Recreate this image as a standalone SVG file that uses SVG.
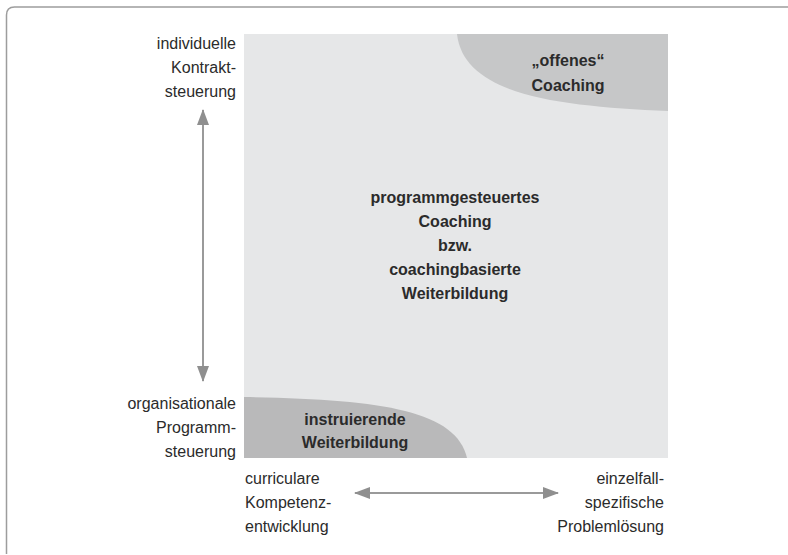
<svg xmlns="http://www.w3.org/2000/svg" width="788" height="555" viewBox="0 0 788 555">
<defs>
<style>
text{font-family:"Liberation Sans",Arial,sans-serif;font-size:16px;fill:#2b2b2b}
.b{font-weight:bold}
.r{text-anchor:end}
.c{text-anchor:middle}
.ax{stroke:#9a9a9a;stroke-width:2;fill:none}
</style>
<marker id="ah" viewBox="0 0 16 12" refX="15" refY="6" markerWidth="16" markerHeight="12" markerUnits="userSpaceOnUse" orient="auto-start-reverse">
<path d="M0,0 L16,6 L0,12 Z" fill="#8f8f8f"/>
</marker>
</defs>
<rect width="788" height="555" fill="#fff"/>
<path d="M6.5,554 L6.5,15 Q6.5,7 14.5,7 L788,7" fill="none" stroke="#9d9d9d" stroke-width="1.5"/>
<g id="field">
<rect x="244" y="34" width="424" height="424" fill="#e6e7e8"/>
</g>
<g id="offenes">
<path d="M457,34 C464,96 560,106 668,111 L668,34 Z" fill="#c6c7c8"/>
<text class="b c" x="568" y="66">„offenes“</text>
<text class="b c" x="568" y="91">Coaching</text>
</g>
<g id="instruierende">
<path d="M244,397 C380,399 456,410 467,458 L244,458 Z" fill="#b9b9ba"/>
<text class="b c" x="355" y="425">instruierende</text>
<text class="b c" x="355" y="448">Weiterbildung</text>
</g>
<g id="programm">
<text class="b c" x="455" y="203">programmgesteuertes</text>
<text class="b c" x="455" y="227">Coaching</text>
<text class="b c" x="455" y="251">bzw.</text>
<text class="b c" x="455" y="275">coachingbasierte</text>
<text class="b c" x="455" y="299">Weiterbildung</text>
</g>
<g id="label-top">
<text class="r" x="236" y="49">individuelle</text>
<text class="r" x="236" y="73">Kontrakt-</text>
<text class="r" x="236" y="97">steuerung</text>
</g>
<g id="label-bottom">
<text class="r" x="236" y="409">organisationale</text>
<text class="r" x="236" y="433">Programm-</text>
<text class="r" x="236" y="457">steuerung</text>
</g>
<g id="label-left">
<text x="245" y="484">curriculare</text>
<text x="245" y="508">Kompetenz-</text>
<text x="245" y="532">entwicklung</text>
</g>
<g id="label-right">
<text class="r" x="664" y="484">einzelfall-</text>
<text class="r" x="664" y="508">spezifische</text>
<text class="r" x="664" y="532">Problemlösung</text>
</g>
<g id="connectors">
<line class="ax" x1="203" y1="110" x2="203" y2="381" marker-start="url(#ah)" marker-end="url(#ah)"/>
<line class="ax" x1="355" y1="493" x2="558" y2="493" marker-start="url(#ah)" marker-end="url(#ah)"/>
</g>
</svg>
